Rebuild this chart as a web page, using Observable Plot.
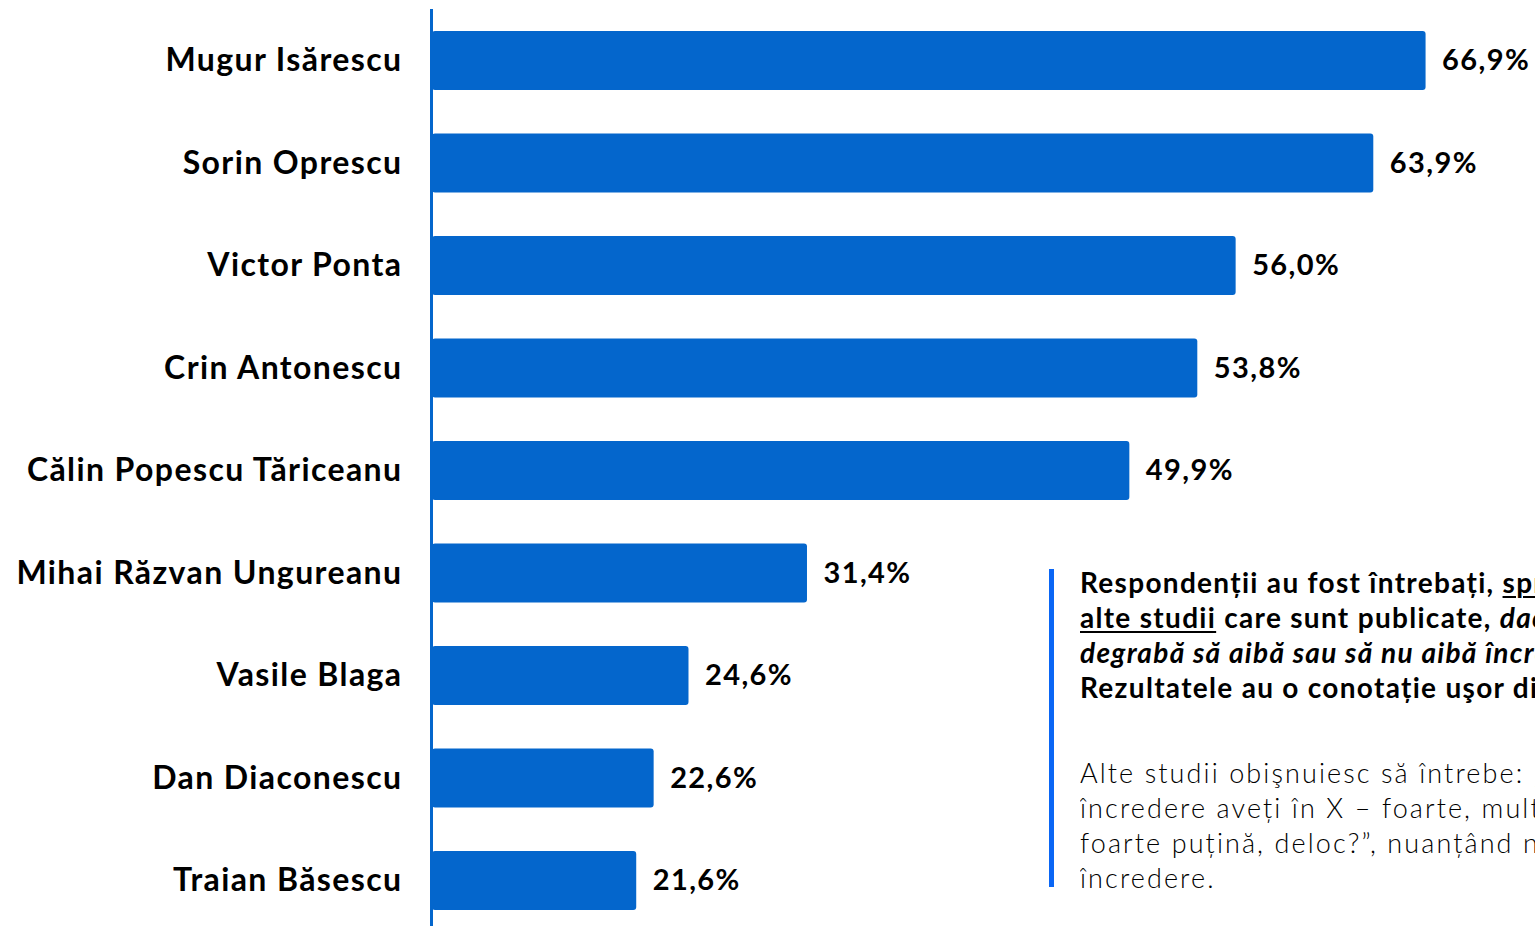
<!DOCTYPE html>
<html>
<head>
<meta charset="utf-8">
<script src="https://cdn.jsdelivr.net/npm/d3@7"></script>
<script src="https://cdn.jsdelivr.net/npm/@observablehq/plot@0.6"></script>
<style>
  html, body { margin: 0; padding: 0; background: #fff; overflow: hidden; }
  #wrap { position: relative; width: 1535px; height: 926px; overflow: hidden; }
  #bar { position: absolute; left: 1049px; top: 569px; width: 5px; height: 318px; background: #0a66f5; }
  #note { position: absolute; left: 1080px; top: 565px; width: 455px; height: 345px; overflow: hidden; }
  #note div { white-space: nowrap; font-family: Lato, sans-serif; color: #000; }
  .b { font-weight: bold; font-size: 28px; line-height: 35px; letter-spacing: 1.3px; }
  .r { font-weight: 300; font-size: 27px; line-height: 35px; letter-spacing: 2.1px; }
  #note u { text-decoration-thickness: 2px; text-underline-offset: 3px; }
</style>
</head>
<body>
<div id="wrap">
  <div id="chart"></div>
  <div id="bar"></div>
  <div id="note">
    <div class="b">Respondenții au fost întrebați, <u>spre deosebire de</u></div>
    <div class="b"><u>alte studii</u> care sunt publicate, <i>dacă ar fi mai</i></div>
    <div class="b"><i>degrabă să aibă sau să nu aibă încredere.</i></div>
    <div class="b">Rezultatele au o conotație uşor diferită.</div>
    <div class="r" style="margin-top:50px">Alte studii obişnuiesc să întrebe: „Câtă</div>
    <div class="r">încredere aveți în X – foarte, multă, puțină,</div>
    <div class="r">foarte puțină, deloc?”, nuanțând nivelul de</div>
    <div class="r">încredere.</div>
  </div>
</div>
<script>
const names = ["Mugur Isărescu", "Sorin Oprescu", "Victor Ponta", "Crin Antonescu", "Călin Popescu Tăriceanu", "Mihai Răzvan Ungureanu", "Vasile Blaga", "Dan Diaconescu", "Traian Băsescu"];
const values = [66.9, 63.9, 56.0, 53.8, 49.9, 31.4, 24.6, 22.6, 21.6];
const axisStart = 9.88;

const data = names.map((n, i) => ({name: n, v: values[i]}));
const blue = "#0466cc";
const fmt = v => v.toFixed(1).replace(".", ",") + "%";

const chart = Plot.plot({
  width: 1535,
  height: 932,
  marginLeft: 432,
  marginRight: 0,
  marginTop: 9,
  marginBottom: 0,
  style: {fontFamily: "Lato, sans-serif", background: "transparent", letterSpacing: "1.4px"},
  x: {domain: [axisStart, 73.18], axis: null},
  y: {domain: names, paddingInner: 0.424, paddingOuter: 0.2146, round: false, label: null},
  marks: [
    Plot.barX(data, {x1: axisStart, x2: "v", y: "name", fill: blue, rx: 3}),
    Plot.ruleX([axisStart], {stroke: blue, strokeWidth: 3, dx: -1}),
    Plot.axisY({tickSize: 0, tickPadding: 30, fontSize: 32, fontWeight: "bold", fill: "#000", label: null}),
    Plot.text(data, {x: "v", y: "name", text: d => fmt(d.v), dx: 16, textAnchor: "start", fontSize: 29, fontWeight: "bold", fill: "#000"})
  ]
});
document.getElementById("chart").appendChild(chart);
</script>
</body>
</html>
